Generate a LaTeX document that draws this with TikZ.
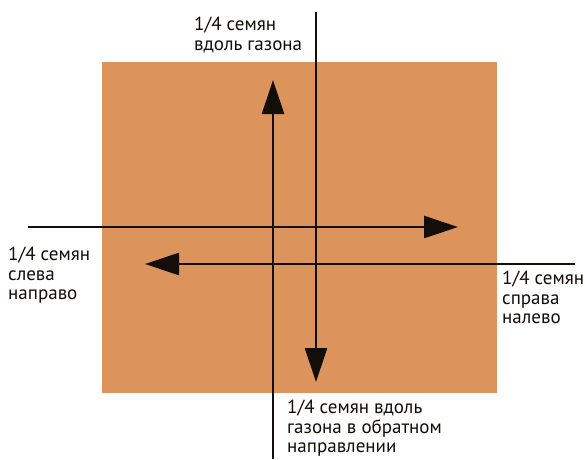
\documentclass[tikz,border=0pt]{standalone}
\usepackage{fontspec}
\setmainfont{PT Sans}
\usetikzlibrary{arrows.meta}
\definecolor{lawn}{RGB}{221,148,92}
\definecolor{ink}{RGB}{20,14,10}
\tikzset{
  arr/.style={draw=ink, line width=2.7pt, -{Triangle[length=34pt,width=22pt]}},
  lbl/.style={font=\fontsize{19}{19.5}\selectfont, align=left, inner sep=0pt, anchor=north west, text=ink}
}
\begin{document}
\begin{tikzpicture}[x=1pt,y=-1pt]
\useasboundingbox (0,0) rectangle (585,459);
\fill[white] (0,0) rectangle (585,459);
\node[fill=lawn, minimum width=395pt, minimum height=331pt, inner sep=0pt, anchor=north west] (lawn) at (102,62) {};
% line end points
\coordinate (h1s) at (28,227);
\coordinate (h1e) at (458,227);
\coordinate (h2s) at (575,264);
\coordinate (h2e) at (145,264);
\coordinate (v1s) at (316,12);
\coordinate (v1e) at (316,382);
\coordinate (v2s) at (273,459);
\coordinate (v2e) at (273,80);
\draw[arr] (h1s) -- (h1e);
\draw[arr] (h2s) -- (h2e);
\draw[arr] (v1s) -- (v1e);
\draw[arr] (v2s) -- (v2e);
% labels
\node[lbl] (ltop) at (194,17) {1/4 семян\\вдоль газона};
\node[lbl] (lleft) at (8,247) {1/4 семян\\слева\\направо};
\node[lbl] (lright) at (502,271) {1/4 семян\\справа\\налево};
\node[lbl] (lbot) at (287,400) {1/4 семян вдоль\\газона в обратном\\направлении};
\end{tikzpicture}
\end{document}
